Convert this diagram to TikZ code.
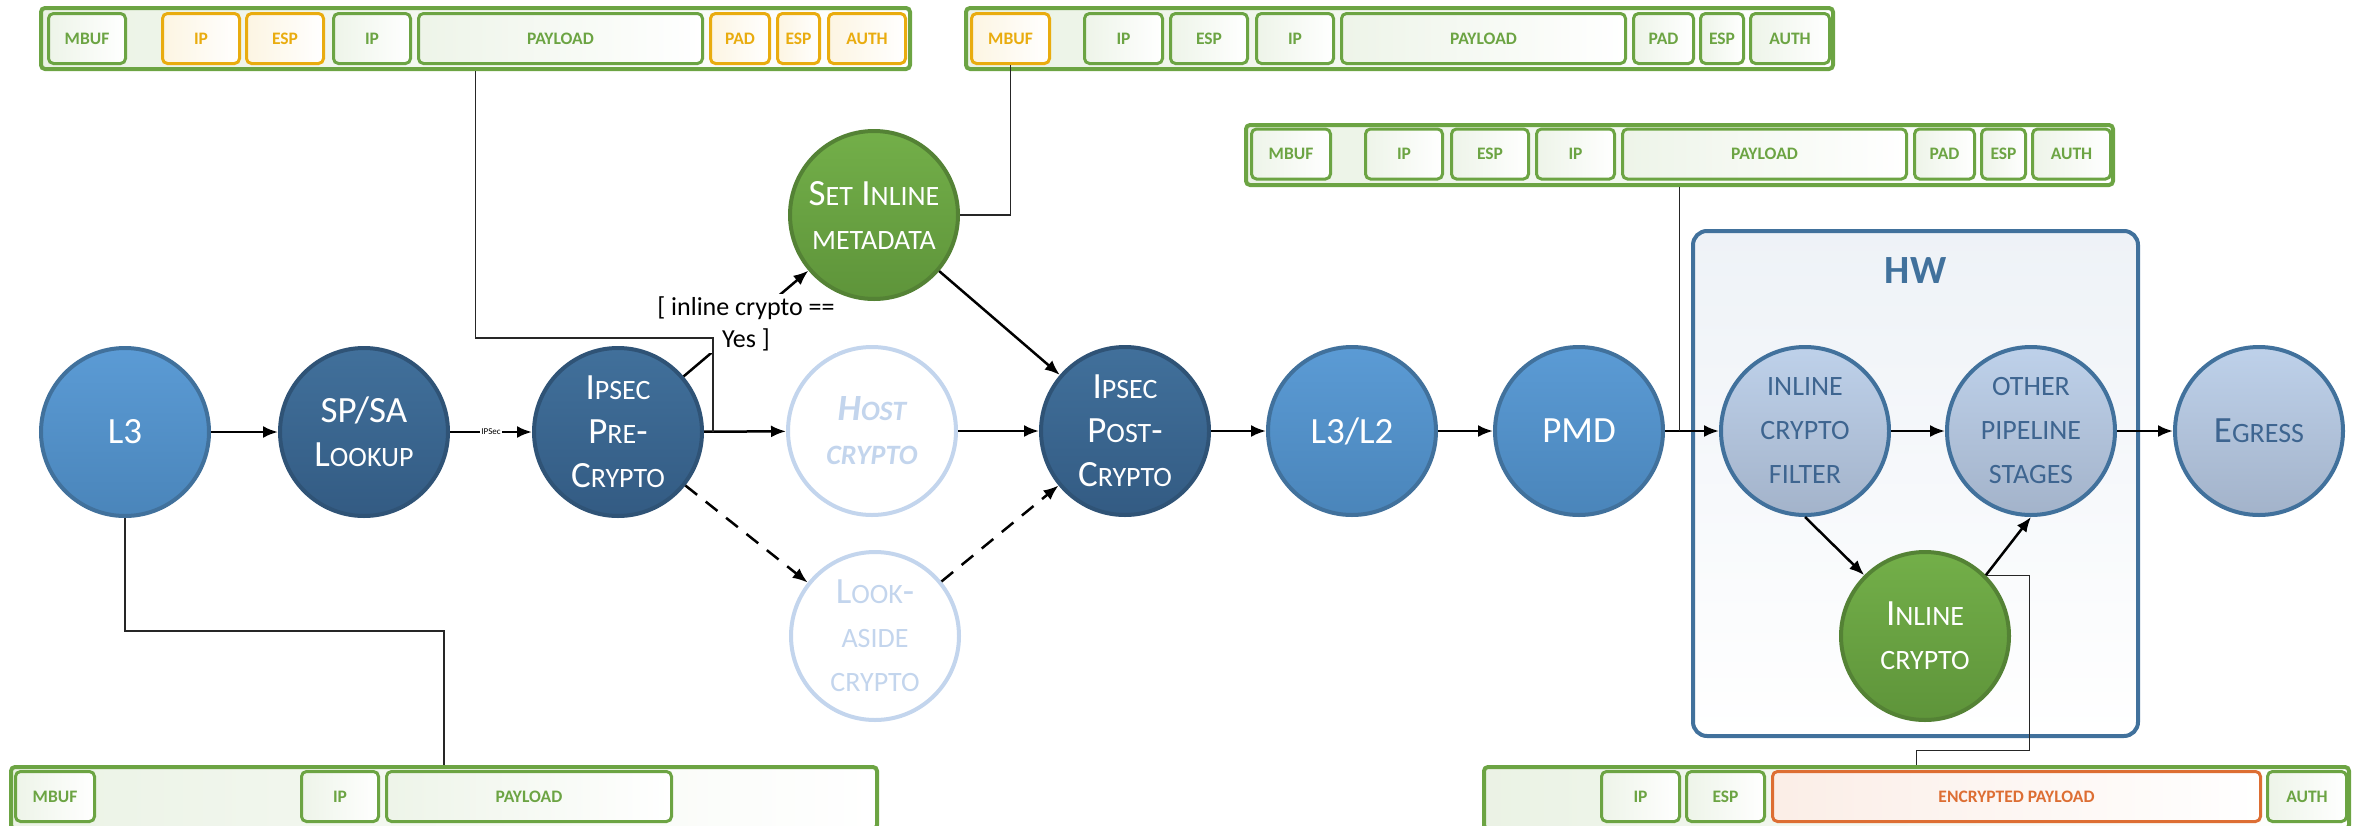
\documentclass[tikz,border=0pt]{standalone}
\usepackage{fontspec}
\setmainfont{Carlito}
\usetikzlibrary{positioning,arrows.meta}

\definecolor{swblue}{HTML}{5B9BD5}
\definecolor{swblueB}{HTML}{4A85BA}
\definecolor{nodeline}{HTML}{41719C}
\definecolor{ipsecT}{HTML}{41709B}
\definecolor{ipsecB}{HTML}{335B83}
\definecolor{ipsecline}{HTML}{2F5376}
\definecolor{hwT}{HTML}{BED1EA}
\definecolor{hwB}{HTML}{A3B3CA}
\definecolor{hwtext}{HTML}{3E6590}
\definecolor{hwbg}{HTML}{EEF2F7}
\definecolor{inlT}{HTML}{73AF49}
\definecolor{inlB}{HTML}{5E943A}
\definecolor{inlline}{HTML}{548235}
\definecolor{ghost}{HTML}{C3D5ED}
\definecolor{pktgreen}{HTML}{6CA443}
\definecolor{amber}{HTML}{E9AC0F}
\definecolor{encred}{HTML}{DD6E33}

% small caps are faked, Carlito has none
\newcommand{\sm}[1]{{\fontsize{28}{44}\selectfont #1}}

\tikzstyle{stage}=[circle, draw, line width=4pt, minimum size=168pt, inner sep=0pt,
  align=center, text=white, font=\fontsize{37}{44}\selectfont]
\tikzstyle{sw stage}=[stage, draw=nodeline, top color=swblue, bottom color=swblueB]
\tikzstyle{ipsec stage}=[stage, draw=ipsecline, top color=ipsecT, bottom color=ipsecB]
\tikzstyle{hw stage}=[stage, draw=nodeline, top color=hwT, bottom color=hwB, text=hwtext]
\tikzstyle{inline stage}=[stage, draw=inlline, top color=inlT, bottom color=inlB]
% not taken in this path
\tikzstyle{off stage}=[stage, draw=ghost, fill=white, text=ghost]
\tikzstyle{flow}=[line width=2.5pt, -{Latex[length=15pt,width=12pt]}]
\tikzstyle{maybe flow}=[flow, dash pattern=on 15pt off 11pt]
\tikzstyle{wire}=[line width=1.3pt, black!85]
\tikzstyle{pkt}=[rectangle, rounded corners=4pt, draw=pktgreen, line width=4pt,
  left color=pktgreen!14, right color=white, inner sep=0pt]
\tikzstyle{fld}=[rectangle, rounded corners=5pt, line width=3pt, inner sep=0pt,
  minimum height=50pt, font=\fontsize{17.5}{17.5}\selectfont\bfseries]

\begin{document}
\begin{tikzpicture}[x=1pt, y=-1pt,
    hwbox/.style={rectangle, rounded corners=14pt, draw=nodeline, line width=4pt,
      top color=hwbg, bottom color=white},
    hw title/.style={inner sep=0pt, text=nodeline, font=\fontsize{40}{40}\selectfont\bfseries},
    cond/.style={fill=white, inner sep=2pt, align=center, font=\fontsize{26}{32}\selectfont},
    tag/.style={fill=white, inner sep=1pt, font=\fontsize{9}{9}\selectfont}]
  \useasboundingbox (0,0) rectangle (2364,825);

  \node[hwbox, minimum width=445, minimum height=505] (hw) at (1915.5,483.5) {};
  \node[hw title, below=28pt of hw.north] (hwtitle) {HW};

  % packet layouts
  \node[pkt, minimum width=869, minimum height=61] (barA) at (475.5,38.5) {};
  \foreach \xa/\xb/\col/\txt [count=\i] in {47/127/pktgreen/MBUF, 161/241/amber/IP,
      245/325/amber/ESP, 332/412/pktgreen/IP, 417/704/pktgreen/PAYLOAD,
      709/771/amber/PAD, 776/821/amber/ESP, 827/907/amber/AUTH}
    \node[fld, draw=\col, text=\col, left color=\col!12, right color=white,
      minimum width=\xb-\xa-3] (barA-\i) at ({(\xa+\xb)/2},38.5) {\txt};

  \node[pkt, minimum width=867, minimum height=61] (barB) at (1399.5,38.5) {};
  \foreach \xa/\xb/\col/\txt [count=\i] in {970/1051/amber/MBUF, 1083/1164/pktgreen/IP,
      1169/1249/pktgreen/ESP, 1255/1335/pktgreen/IP, 1340/1627/pktgreen/PAYLOAD,
      1632/1695/pktgreen/PAD, 1699/1745/pktgreen/ESP, 1749/1831/pktgreen/AUTH}
    \node[fld, draw=\col, text=\col, left color=\col!12, right color=white,
      minimum width=\xb-\xa-3] (barB-\i) at ({(\xa+\xb)/2},38.5) {\txt};

  \node[pkt, minimum width=867, minimum height=60] (barC) at (1679.5,155) {};
  \foreach \xa/\xb/\col/\txt [count=\i] in {1250/1332/pktgreen/MBUF, 1364/1444/pktgreen/IP,
      1450/1530/pktgreen/ESP, 1535/1616/pktgreen/IP, 1621/1908/pktgreen/PAYLOAD,
      1913/1976/pktgreen/PAD, 1980/2027/pktgreen/ESP, 2031/2112/pktgreen/AUTH}
    \node[fld, draw=\col, text=\col, left color=\col!12, right color=white,
      minimum width=\xb-\xa-3] (barC-\i) at ({(\xa+\xb)/2},154) {\txt};

  \node[pkt, minimum width=866, minimum height=62] (barD) at (444,798) {};
  \foreach \xa/\xb/\col/\txt [count=\i] in {14/96/pktgreen/MBUF, 300/380/pktgreen/IP,
      385/673/pktgreen/PAYLOAD}
    \node[fld, draw=\col, text=\col, left color=\col!12, right color=white,
      minimum width=\xb-\xa-3] (barD-\i) at ({(\xa+\xb)/2},796.5) {\txt};

  \node[pkt, minimum width=865, minimum height=62] (barE) at (1916.5,798) {};
  \foreach \xa/\xb/\col/\txt [count=\i] in {1600/1681/pktgreen/IP, 1685/1766/pktgreen/ESP,
      1771/2262/encred/ENCRYPTED PAYLOAD, 2266/2348/pktgreen/AUTH}
    \node[fld, draw=\col, text=\col, left color=\col!12, right color=white,
      minimum width=\xb-\xa-3] (barE-\i) at ({(\xa+\xb)/2},796.5) {\txt};

  % stages
  \node[sw stage] (L3) at (125,432) {L3};
  \node[ipsec stage] (SPSA) at (364,432) {SP/SA\\L\sm{OOKUP}};
  \node[ipsec stage] (Pre) at (618,432) {I\sm{PSEC}\\P\sm{RE}-\\C\sm{RYPTO}};
  \node[off stage, font=\fontsize{37}{44}\selectfont\bfseries\itshape] (Host) at (872,431)
    {H\sm{OST}\\\sm{CRYPTO}};
  \node[inline stage] (SetInl) at (874,215) {S\sm{ET} I\sm{NLINE}\\\sm{METADATA}};
  \node[off stage] (Look) at (875,636) {L\sm{OOK}-\\\sm{ASIDE}\\\sm{CRYPTO}};
  \node[ipsec stage] (Post) at (1125,431) {I\sm{PSEC}\\P\sm{OST}-\\C\sm{RYPTO}};
  \node[sw stage] (L3L2) at (1352,431) {L3/L2};
  \node[sw stage] (PMD) at (1579,431) {PMD};
  \node[hw stage] (Filt) at (1805,431) {\sm{INLINE}\\\sm{CRYPTO}\\\sm{FILTER}};
  \node[hw stage] (Other) at (2031,431) {\sm{OTHER}\\\sm{PIPELINE}\\\sm{STAGES}};
  \node[hw stage] (Egress) at (2259,431) {E\sm{GRESS}};
  \node[inline stage] (InlCry) at (1925,636) {I\sm{NLINE}\\\sm{CRYPTO}};

  \draw[flow] (L3) -- (SPSA);
  \draw[flow] (SPSA) -- node[tag] {IPSec} (Pre);
  \draw[flow] (Pre) -- (Host);
  \draw[flow] (Pre) -- node[cond] {[ inline crypto ==\\Yes ]} (SetInl);
  \draw[maybe flow] (Pre) -- (Look);
  \draw[flow] (Host) -- (Post);
  \draw[flow] (SetInl) -- (Post);
  \draw[maybe flow] (Look) -- (Post);
  \draw[flow] (Post) -- (L3L2);
  \draw[flow] (L3L2) -- (PMD);
  \draw[flow] (PMD) -- (Filt);
  \draw[flow] (Filt) -- (Other);
  \draw[flow] (Other) -- (Egress);
  \draw[flow] (Filt.south) -- (InlCry.135);
  \draw[flow] (InlCry.45) -- (Other.south);

  % which packet layout goes with which stage
  \coordinate (tapA) at ([xshift=9pt]Pre.east);
  \coordinate (tapC) at (barC.south |- PMD.east);
  \draw[wire] (barA.south) -- ++(0,267) -| (tapA);
  \draw[wire] (SetInl.east) -| (barB-1.south);
  \draw[wire] (barC.south) -- (tapC);
  \draw[wire] (L3.south) -- ++(0,113) -| (barD.north);
  \draw[wire] (InlCry.45) -- ++(44,0) -- ++(0,175) -| (barE.north);
\end{tikzpicture}
\end{document}
